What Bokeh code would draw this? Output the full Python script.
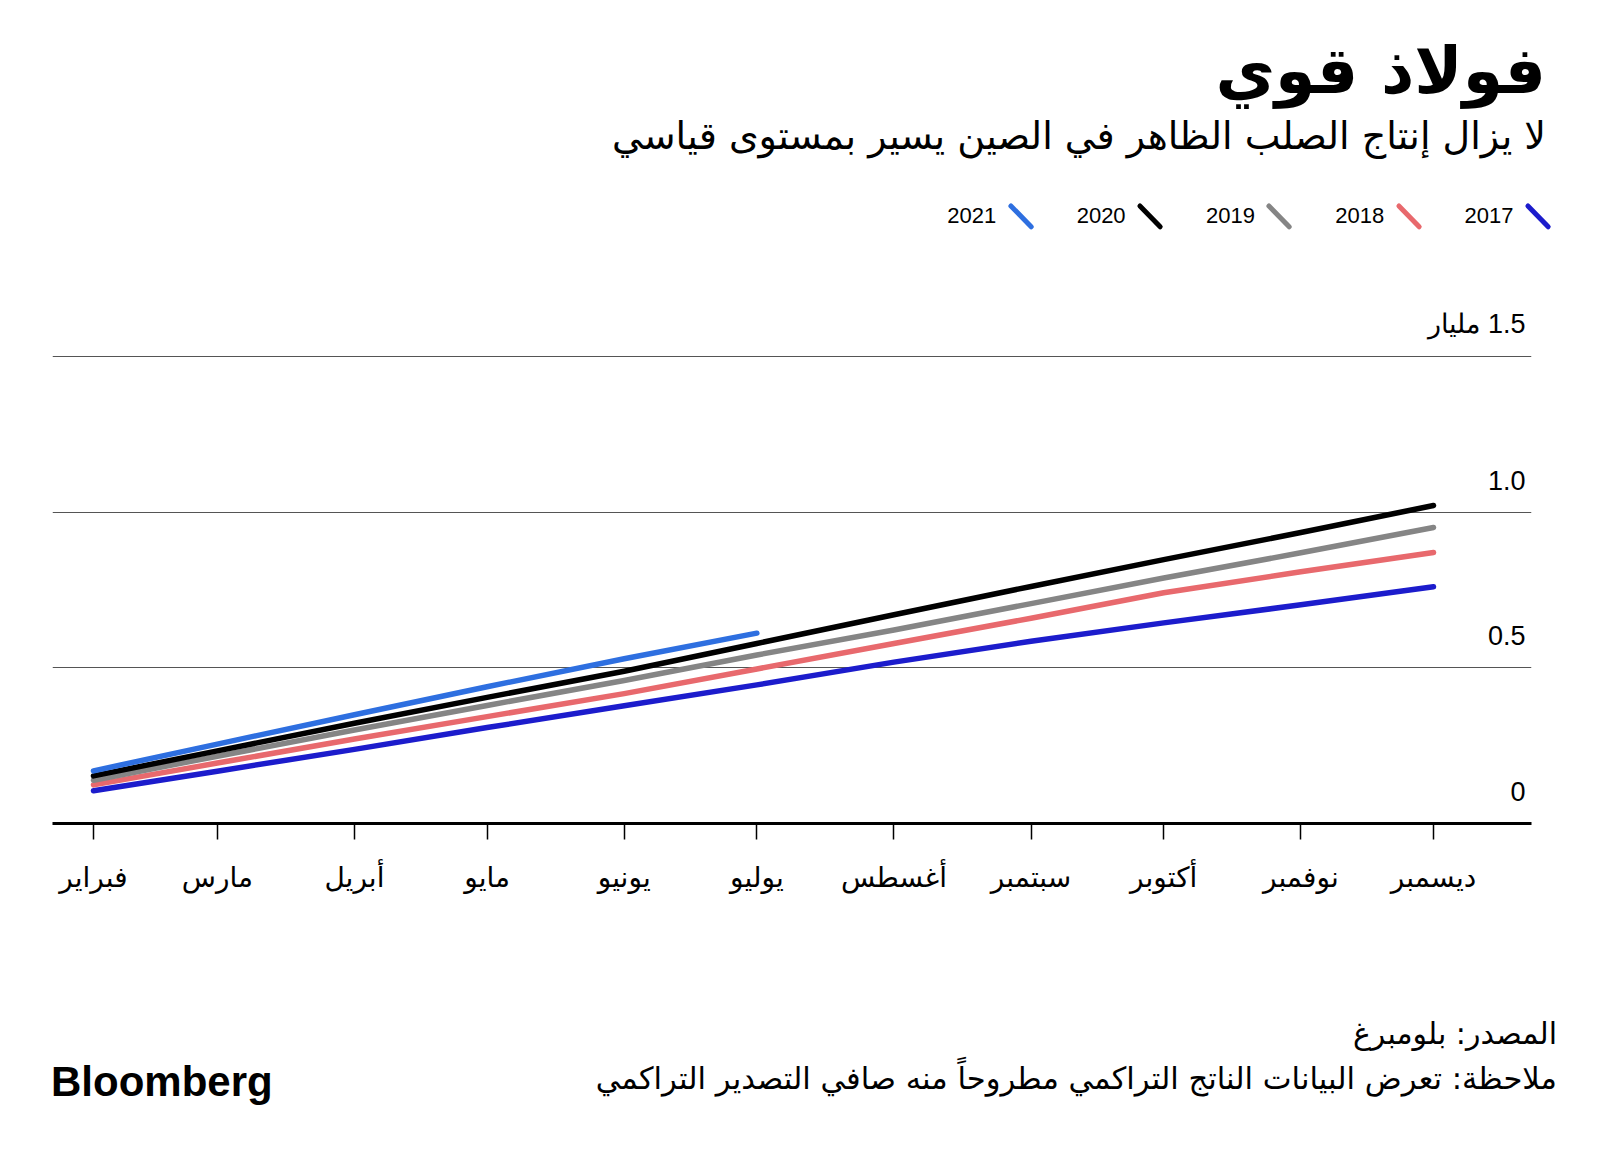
import math
import datetime as dt
from bokeh.plotting import figure
from bokeh.layouts import column
from bokeh.models import Range1d, FixedTicker, Grid, ColumnDataSource, Div
from bokeh.core.properties import value
from bokeh.embed import file_html
from bokeh.resources import INLINE

# ---------------- data ----------------
YEAR = 2021
month_numbers = [2, 3, 4, 5, 6, 7, 8, 9, 10, 11, 12]
month_labels = ["فبراير", "مارس", "أبريل", "مايو", "يونيو", "يوليو",
                "أغسطس", "سبتمبر", "أكتوبر", "نوفمبر", "ديسمبر"]

years = ["2017", "2018", "2019", "2020", "2021"]
colors = ["#1c1ccc", "#e8696d", "#858585", "#000000", "#2e6fe0"]

v2017 = [0.105, 0.168, 0.238, 0.308, 0.378, 0.445, 0.518, 0.585, 0.644, 0.702, 0.760]
v2018 = [0.124, 0.194, 0.271, 0.343, 0.417, 0.496, 0.578, 0.659, 0.741, 0.808, 0.870]
v2019 = [0.139, 0.216, 0.300, 0.379, 0.459, 0.541, 0.621, 0.706, 0.788, 0.869, 0.950]
v2020 = [0.153, 0.233, 0.322, 0.405, 0.489, 0.578, 0.670, 0.761, 0.847, 0.934, 1.021]
v2021 = [0.169, 0.255, 0.349, 0.439, 0.529, 0.611]
series = [v2017, v2018, v2019, v2020, v2021]

y_ticks = [0, 0.5, 1.0, 1.5]
# leading RLM so the label reads right-to-left as in the original ("1.5" on the right)
y_tick_labels = ["0", "0.5", "1.0", "\u200f1.5 مليار"]
grid_ticks = [0.5, 1.0, 1.5]

title_text = "فولاذ قوي"
subtitle_text = "لا يزال إنتاج الصلب الظاهر في الصين يسير بمستوى قياسي"
source_text = "المصدر: بلومبرغ"
note_text = "ملاحظة: تعرض البيانات الناتج التراكمي مطروحاً منه صافي التصدير التراكمي"
brand_text = "Bloomberg"

# ---------------- layout constants ----------------
W = 1584
H_HEAD = 262
H_MAIN = 700
H_FOOT = 170
FRAME_LEFT, FRAME_RIGHT = 52, 1531
FRAME_TOP, FRAME_BOTTOM = 300, 823


def text_block(text, x, y, size, align="right", bold=False, font="DejaVu Sans",
               rtl=True):
    lh = int(size * 1.4)
    top = y - lh / 2
    pos = f"right:{W - x}px;" if align == "right" else f"left:{x}px;"
    d = ' dir="rtl"' if rtl else ""
    weight = "bold" if bold else "normal"
    return (f'<div{d} style="position:absolute;{pos}top:{top}px;height:{lh}px;'
            f'line-height:{lh}px;font-size:{size}px;font-weight:{weight};'
            f"font-family:'{font}';white-space:nowrap;color:#000;\">{text}</div>")


def key_block(x0, y0, x1, y1, color, width=5):
    L = math.hypot(x1 - x0, y1 - y0) + width
    ang = math.degrees(math.atan2(y1 - y0, x1 - x0))
    cx, cy = (x0 + x1) / 2, (y0 + y1) / 2
    return (f'<div style="position:absolute;left:{cx - L / 2}px;top:{cy - width / 2}px;'
            f'width:{L}px;height:{width}px;border-radius:{width / 2}px;'
            f'background:{color};transform:rotate({ang}deg);"></div>')


def container(inner, h):
    return (f'<div style="position:relative;width:{W}px;height:{h}px;margin:0;'
            f'padding:0;background:#fff;">{inner}</div>')


# ---------------- header ----------------
head = [text_block(title_text, 1546, 70, 65, bold=True),
        text_block(subtitle_text, 1546, 136, 38)]
for i, (yr, col) in enumerate(zip(years, colors)):
    xr = 1551 - 129.3 * i
    xl = xr - 25.5
    head.append(key_block(xl + 2.5, 206, xr - 2.5, 227, col))
    head.append(text_block(yr, xl - 12, 216, 22, font="Liberation Sans", rtl=False))
header = Div(text=container("".join(head), H_HEAD), width=W, height=H_HEAD,
             margin=(0, 0, 0, 0))

# ---------------- main chart ----------------
dates = [dt.datetime(YEAR, m, 1) for m in month_numbers]


def ms(d):
    return (d - dt.datetime(1970, 1, 1)).total_seconds() * 1000.0


b_left = FRAME_LEFT
b_right = W - FRAME_RIGHT
b_top = FRAME_TOP - H_HEAD
b_bottom = H_HEAD + H_MAIN - FRAME_BOTTOM
frame_w = FRAME_RIGHT - FRAME_LEFT
frame_h = FRAME_BOTTOM - FRAME_TOP
px_per_unit = 311.5
y_end = frame_h / px_per_unit
day_px = 1340.0 / (dates[-1] - dates[0]).days
x_start = dates[0] - dt.timedelta(days=(93 - FRAME_LEFT) / day_px)
x_end = x_start + dt.timedelta(days=frame_w / day_px)

p = figure(width=W, height=H_MAIN, x_axis_type="datetime", y_axis_location=None,
           x_range=Range1d(x_start, x_end), y_range=Range1d(0, y_end),
           output_backend="svg", toolbar_location=None,
           min_border_left=b_left, min_border_right=b_right,
           min_border_top=b_top, min_border_bottom=b_bottom)
p.outline_line_color = None
p.background_fill_color = "white"
p.border_fill_color = "white"
p.grid.visible = False

grid = Grid(dimension=1, ticker=FixedTicker(ticks=grid_ticks),
            grid_line_color="#555555", grid_line_width=1)
p.add_layout(grid)

ax = p.xaxis[0]
ax.ticker = FixedTicker(ticks=[ms(d) for d in dates])
ax.major_label_overrides = {ms(d): lab_ for d, lab_ in zip(dates, month_labels)}
ax.axis_line_color = "black"
ax.axis_line_width = 3
ax.major_tick_line_color = "black"
ax.major_tick_line_width = 1.5
ax.major_tick_in = 0
ax.major_tick_out = 16
ax.minor_tick_line_color = None
ax.major_label_standoff = 21
ax.major_label_text_font = "DejaVu Sans"
ax.major_label_text_font_size = "28px"
ax.major_label_text_color = "black"

for yr, col, vals in zip(years, colors, series):
    src = ColumnDataSource(dict(x=dates[:len(vals)], y=vals))
    p.line("x", "y", source=src, line_color=col, line_width=5.5, line_cap="round",
           line_join="round")

ysrc = ColumnDataSource(dict(x=[x_end] * len(y_ticks), y=y_ticks, t=y_tick_labels))
p.text("x", "y", text="t", source=ysrc, text_align="right", text_baseline="alphabetic",
       x_offset=-6, y_offset=-32, text_font=value("Liberation Sans"),
       text_font_size="27px", text_color="black")

# ---------------- footer ----------------
FOOT_TOP = H_HEAD + H_MAIN
foot = [text_block(source_text, 1557, 1034 - FOOT_TOP, 30),
        text_block(note_text, 1557, 1079 - FOOT_TOP, 30.6),
        text_block(brand_text, 51, 1082 - FOOT_TOP, 42, align="left", bold=True,
                   font="Liberation Sans", rtl=False)]
footer = Div(text=container("".join(foot), H_FOOT), width=W, height=H_FOOT,
             margin=(0, 0, 0, 0))

layout = column(header, p, footer, spacing=0)
open("out.html", "w").write(file_html(layout, INLINE))
